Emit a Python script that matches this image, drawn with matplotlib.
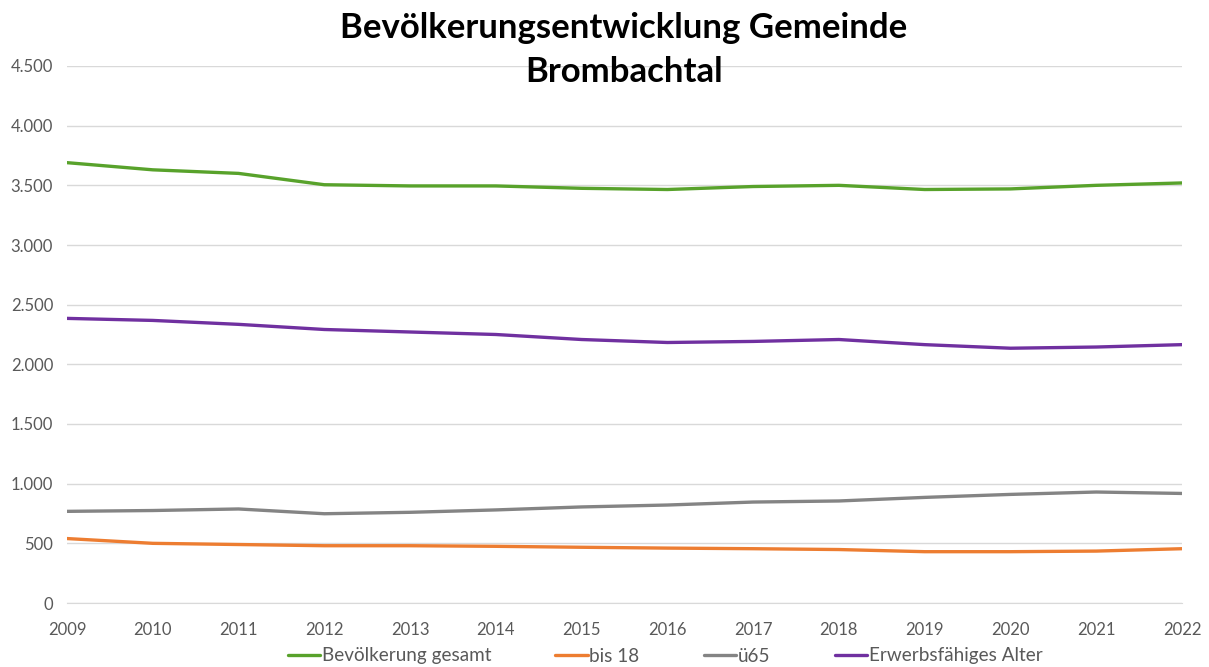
import matplotlib
matplotlib.use("Agg")
import matplotlib.pyplot as plt
from matplotlib.ticker import FuncFormatter

years = [2009, 2010, 2011, 2012, 2013, 2014, 2015, 2016, 2017, 2018, 2019, 2020, 2021, 2022]
gesamt = [3690, 3630, 3600, 3505, 3495, 3495, 3475, 3465, 3490, 3500, 3465, 3470, 3500, 3520]
bis18 = [540, 500, 490, 480, 480, 475, 467, 460, 455, 448, 430, 430, 435, 455]
ue65 = [768, 775, 788, 748, 760, 780, 805, 821, 846, 855, 885, 910, 930, 918]
erwerb = [2385, 2368, 2335, 2292, 2271, 2250, 2208, 2183, 2192, 2208, 2165, 2135, 2145, 2165]
labels = ["Bevölkerung gesamt", "bis 18", "ü65", "Erwerbsfähiges Alter"]
colors = ["#58A22B", "#ED7D31", "#848484", "#7030A0"]
title = "Bevölkerungsentwicklung Gemeinde\nBrombachtal"

plt.rcParams['font.family'] = ['Lato', 'DejaVu Sans']

fig = plt.figure(figsize=(12.09, 6.67), dpi=100)
ax = fig.add_axes([67/1209, 1-603/667, (1182-67)/1209, (603-66)/667])

for series, lab, col in zip([gesamt, bis18, ue65, erwerb], labels, colors):
    ax.plot(years, series, color=col, lw=2.4, label=lab, solid_capstyle='round')

ax.set_xlim(2009, 2022)
ax.set_ylim(0, 4500)
ax.set_yticks(range(0, 4501, 500))
ax.set_xticks(years)
ax.yaxis.set_major_formatter(FuncFormatter(lambda v, p: f"{int(v):,}".replace(",", ".")))
ax.grid(axis='y', color='#D9D9D9', lw=1)
ax.set_axisbelow(True)
for s in ['top', 'right', 'left']:
    ax.spines[s].set_visible(False)
ax.spines['bottom'].set_color('#D9D9D9')
ax.tick_params(length=0, labelsize=12, colors='#595959')
ax.tick_params(axis='x', pad=14)
ax.tick_params(axis='y', pad=10)

fig.text(624/1209, 1-50/667, title, ha='center', va='center', fontsize=25, fontweight='bold',
         linespacing=1.45)

fig.legend(loc='center', bbox_to_anchor=(665/1209, 1-656/667), ncol=4, frameon=False,
           fontsize=13.6, handlelength=1.7, handletextpad=0.1, columnspacing=3.4,
           labelcolor='#595959')

fig.savefig("out.png", dpi=100)
